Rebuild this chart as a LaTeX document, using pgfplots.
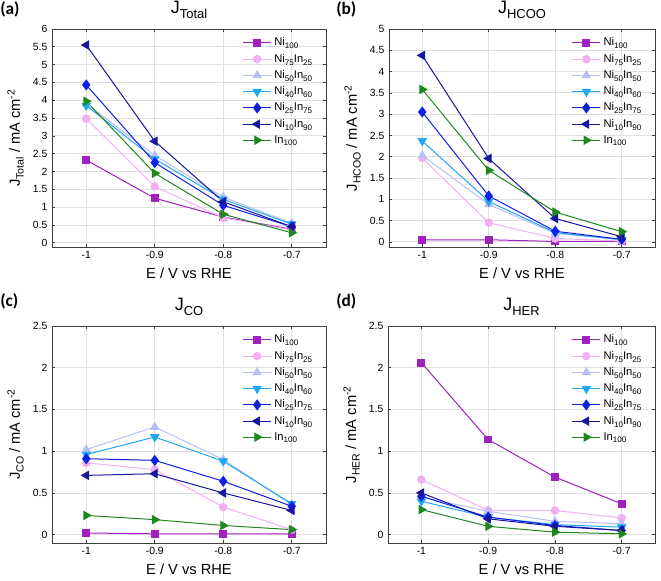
\documentclass[border=0pt]{standalone}
\usepackage{fontspec}
\setmainfont{Liberation Sans}
\newfontfamily\panelfont{Carlito}
\usepackage{pgfplots}
\usepackage{pgfplotstable}
\pgfplotsset{compat=1.18}

\definecolor{cA}{RGB}{160,32,192}
\definecolor{cB}{RGB}{242,176,240}
\definecolor{cC}{RGB}{184,192,242}
\definecolor{cD}{RGB}{30,168,240}
\definecolor{cE}{RGB}{16,32,230}
\definecolor{cF}{RGB}{22,22,160}
\definecolor{cG}{RGB}{30,135,30}

\pgfplotstableread{
E     A     B     C     D     Ep    F     G
-1.0  2.32  3.48  3.90  3.85  4.43  5.55  3.97
-0.9  1.25  1.58  2.45  2.35  2.25  2.85  1.95
-0.8  0.72  0.70  1.28  1.22  1.05  1.15  0.80
-0.7  0.38  0.36  0.55  0.52  0.45  0.45  0.28
}\tot
\pgfplotstableread{
E     A     B     C     D     Ep    F     G
-1.0  0.05  1.97  2.03  2.37  3.05  4.38  3.58
-0.9  0.05  0.45  0.88  0.95  1.08  1.96  1.68
-0.8  0.01  0.08  0.20  0.22  0.25  0.55  0.70
-0.7  0.01  0.02  0.05  0.05  0.06  0.12  0.24
}\hcoo
\pgfplotstableread{
E     A     B     C     D     Ep    F     G
-1.0  0.02  0.86  1.02  0.96  0.91  0.71  0.23
-0.9  0.01  0.78  1.29  1.17  0.89  0.73  0.18
-0.8  0.01  0.33  0.90  0.88  0.64  0.50  0.11
-0.7  0.01  0.06  0.36  0.37  0.34  0.29  0.06
}\co
\pgfplotstableread{
E     A     B     C     D     Ep    F     G
-1.0  2.06  0.66  0.45  0.40  0.46  0.50  0.30
-0.9  1.14  0.29  0.28  0.21  0.21  0.19  0.10
-0.8  0.69  0.29  0.16  0.12  0.11  0.10  0.03
-0.7  0.37  0.20  0.13  0.09  0.05  0.05  0.01
}\her

\newcommand{\sub}[1]{\raisebox{-0.25em}{\fontsize{0.72em}{1em}\selectfont #1}}

\pgfplotsset{
  sA/.style={color=cA, mark=square*, mark size=2.6pt},
  sB/.style={color=cB, mark=*, mark size=2.8pt},
  sC/.style={color=cC, mark=triangle*, mark size=3.4pt},
  sD/.style={color=cD, mark=triangle*, mark options={rotate=180}, mark size=3.4pt},
  sE/.style={color=cE, mark=diamond*, mark size=3.6pt},
  sF/.style={color=cF, mark=triangle*, mark options={rotate=90}, mark size=3.4pt},
  sG/.style={color=cG, mark=triangle*, mark options={rotate=-90}, mark size=3.4pt},
  panel/.style={
    scale only axis,
    xmin=-1.05, xmax=-0.65,
    xtick={-1,-0.9,-0.8,-0.7},
    ytick distance=0.5,
    grid=major,
    grid style={black!12, line width=0.6pt},
    axis line style={black!75, line width=0.6pt},
    tick align=inside,
    tick style={black!75, line width=0.5pt},
    major tick length=2.5pt,
    ticklabel style={font=\fontsize{7.8}{9}\selectfont},
    /pgf/number format/assume math mode=true,
    label style={font=\fontsize{11}{13}\selectfont},
    xlabel={E / V vs RHE},
    title style={font=\fontsize{13.5}{15}\selectfont, yshift=-1.5pt},
    legend cell align=left,
    legend style={draw=none, fill=none, at={(0.975,0.985)}, anchor=north east,
      font=\fontsize{8.4}{9.5}\selectfont, row sep=0.6pt},
    legend image code/.code={\draw[mark repeat=2,mark phase=2,#1]
      plot coordinates {(0cm,0cm) (0.37cm,0cm) (0.74cm,0cm)};},
    every axis plot/.append style={line width=0.75pt},
  },
}

\newcommand{\series}[1]{%
  \addplot[sA] table[x=E,y=A]{#1};
  \addplot[sB] table[x=E,y=B]{#1};
  \addplot[sC] table[x=E,y=C]{#1};
  \addplot[sD] table[x=E,y=D]{#1};
  \addplot[sE] table[x=E,y=Ep]{#1};
  \addplot[sF] table[x=E,y=F]{#1};
  \addplot[sG] table[x=E,y=G]{#1};
  \legend{Ni\sub{100}, Ni\sub{75}In\sub{25},
    Ni\sub{50}In\sub{50}, Ni\sub{40}In\sub{60},
    Ni\sub{25}In\sub{75}, Ni\sub{10}In\sub{90},
    In\sub{100}}
}

\begin{document}
\begin{tikzpicture}
\path[use as bounding box] (0pt,0pt) rectangle (495.75pt,-435.75pt);

\begin{axis}[panel, at={(39pt,-185.25pt)}, anchor=south west,
  width=205.5pt, height=163.5pt, ymin=-0.12, ymax=6,
  title={J\sub{Total}},
  ylabel={J\sub{Total} / mA cm\textsuperscript{-2}}]
\series{\tot}
\end{axis}

\begin{axis}[panel, at={(291.75pt,-185.25pt)}, anchor=south west,
  width=199.5pt, height=163.5pt, ymin=-0.12, ymax=5,
  title={J\sub{HCOO}},
  ylabel={J\sub{HCOO} / mA cm\textsuperscript{-2}}]
\series{\hcoo}
\end{axis}

\begin{axis}[panel, at={(39pt,-407.25pt)}, anchor=south west,
  width=205.5pt, height=162.75pt, ymin=-0.1, ymax=2.5,
  title={J\sub{CO}},
  ylabel={J\sub{CO} / mA cm\textsuperscript{-2}}]
\series{\co}
\end{axis}

\begin{axis}[panel, at={(291pt,-407.25pt)}, anchor=south west,
  width=200.25pt, height=162.75pt, ymin=-0.1, ymax=2.5,
  title={J\sub{HER}},
  ylabel={J\sub{HER} / mA cm\textsuperscript{-2}}]
\series{\her}
\end{axis}

\node[anchor=north west, inner sep=0pt, font=\panelfont\bfseries\fontsize{13}{15}\selectfont] at (0pt,-1pt) {(a)};
\node[anchor=north west, inner sep=0pt, font=\panelfont\bfseries\fontsize{13}{15}\selectfont] at (252pt,-1pt) {(b)};
\node[anchor=north west, inner sep=0pt, font=\panelfont\bfseries\fontsize{13}{15}\selectfont] at (0pt,-220pt) {(c)};
\node[anchor=north west, inner sep=0pt, font=\panelfont\bfseries\fontsize{13}{15}\selectfont] at (252pt,-220pt) {(d)};
\end{tikzpicture}
\end{document}
